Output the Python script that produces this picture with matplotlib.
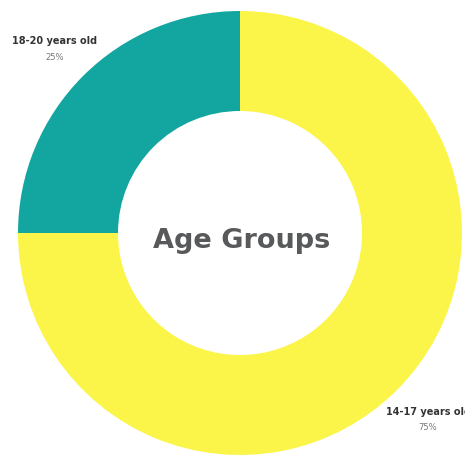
import matplotlib
matplotlib.use("Agg")
import matplotlib.pyplot as plt

# data
groups = ["18-20 years old", "14-17 years old"]
shares = [25, 75]
colors = ["#13A6A0", "#FBF54A"]
title = "Age Groups"

W, H = 465, 458
fig = plt.figure(figsize=(W / 100, H / 100), dpi=100)
ax = fig.add_axes([0, 0, 1, 1])

cx, cy, r = 240, H - 233, 222
ax.pie(shares, colors=colors, startangle=90, counterclock=True,
       radius=r, center=(cx, cy), frame=True,
       wedgeprops=dict(width=r - 122, linewidth=0))
ax.set_xlim(0, W)
ax.set_ylim(0, H)
ax.set_aspect("equal")
ax.axis("off")

# outside labels (pixel positions from top-left)
label_pos = [(55, 41), (428, 412)]
for name, val, (px, py) in zip(groups, shares, label_pos):
    ax.text(px, H - py, name, ha="center", va="center", fontsize=7,
            fontweight="bold", color="#333333", family="DejaVu Sans")
    ax.text(px, H - py - 16, f"{val}%", ha="center", va="center",
            fontsize=6, color="#777777", family="DejaVu Sans")

ax.text(242, H - 241, title, ha="center", va="center", fontsize=19.5,
        fontweight="bold", color="#58595B", family="DejaVu Sans")

fig.savefig("out.png", dpi=100)
